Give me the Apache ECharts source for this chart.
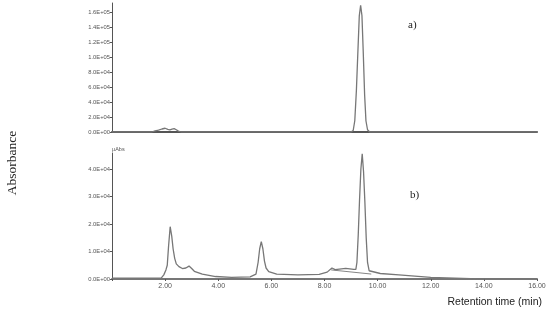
<!DOCTYPE html>
<html>
<head>
<meta charset="utf-8">
<script src="https://cdn.jsdelivr.net/npm/echarts@6/dist/echarts.min.js"></script>
<style>
  html, body { margin: 0; padding: 0; background: #fff; }
  #chart { width: 550px; height: 312px; }
</style>
</head>
<body>
<div id="chart"></div>
<script>
// a) trace: retention time (min) / absorbance
const topTime = [0, 1.5, 1.62, 1.75, 1.88, 2.0, 2.1, 2.18, 2.26, 2.34, 2.42, 2.5, 2.6,
  9.0, 9.08, 9.14, 9.2, 9.26, 9.31, 9.36, 9.41, 9.46, 9.51, 9.56, 9.62, 9.7, 16]
const topAbs = [0, 0, 1500, 2500, 4000, 5000, 3500, 2800, 3800, 4500, 3000, 1200, 0,
  0, 2000, 15000, 55000, 110000, 155000, 169000, 155000, 105000, 50000, 15000, 3000, 0, 0]

// b) trace
const botTime = [0, 1.85, 1.95, 2.03, 2.08, 2.13, 2.19, 2.25, 2.3, 2.36, 2.42, 2.52, 2.65, 2.78,
  2.9, 3.0, 3.1, 3.4, 3.9, 4.5, 5.2, 5.42, 5.5, 5.56, 5.62, 5.68, 5.74, 5.8, 5.9, 6.2, 7.0,
  7.8, 8.1, 8.28, 8.4, 8.8, 9.1, 9.18, 9.22, 9.27, 9.32, 9.37, 9.42, 9.47, 9.52, 9.57, 9.62,
  9.68, 9.75, 10.1, 10.8, 12.0, 13.8, 16.0]
const botAbs = [300, 300, 1500, 3300, 5000, 12000, 19000, 15500, 11000, 7500, 5500, 4500, 3800, 4000,
  4700, 3800, 2800, 1800, 900, 600, 800, 1800, 6000, 11000, 13600, 11000, 6500, 4000, 2700, 1800, 1500,
  1700, 2500, 4000, 3400, 3900, 3500, 3500, 6000, 16000, 29000, 40000, 45500, 39000, 28000, 15000, 6000,
  3000, 2500, 2000, 1500, 600, 0, 0]

// integration baseline under the main peak in b)
const baseTime = [8.25, 9.76]
const baseAbs = [3300, 1800]

const xTicks = [2, 4, 6, 8, 10, 12, 14, 16]

const toPairs = (xs, ys) => xs.map((x, i) => [x, ys[i]])

// 1.6E+05 style labels
const sciLabel = (v) => {
  if (v === 0) return '0.0E+00'
  const e = Math.floor(Math.log10(Math.abs(v)))
  const m = (v / Math.pow(10, e)).toFixed(1)
  return m + 'E' + (e < 0 ? '-' : '+') + String(Math.abs(e)).padStart(2, '0')
}

const axisColor = '#555'
const traceColor = '#777'
const labelStyle = { fontSize: 5.8, color: '#555', margin: 2, fontFamily: 'Liberation Sans', showMaxLabel: false, formatter: sciLabel }

const chart = echarts.init(document.getElementById('chart'))
const option = {
  animation: false,
  grid: [
    { left: 112, right: 13, top: 3, height: 129 },
    { left: 112, right: 13, top: 153, height: 126 }
  ],
  xAxis: [
    {
      type: 'value', gridIndex: 0, min: 0, max: 16, interval: 2,
      axisLine: { lineStyle: { color: axisColor, width: 2 } },
      axisTick: { show: false },
      axisLabel: { show: false },
      splitLine: { show: false }
    },
    {
      type: 'value', gridIndex: 1, min: 0, max: 16, interval: 2,
      axisLine: { lineStyle: { color: '#777', width: 2 } },
      axisTick: { length: 2, lineStyle: { color: axisColor } },
      axisLabel: {
        fontSize: 7, color: '#555', margin: 4, fontFamily: 'Liberation Sans',
        formatter: (v) => xTicks.includes(v) ? v.toFixed(2) : ''
      },
      splitLine: { show: false }
    }
  ],
  yAxis: [
    {
      type: 'value', gridIndex: 0, min: 0, max: 172000, interval: 20000,
      axisLine: { show: true, lineStyle: { color: axisColor } },
      axisTick: { length: 2, lineStyle: { color: axisColor } },
      axisLabel: labelStyle,
      splitLine: { show: false }
    },
    {
      type: 'value', gridIndex: 1, min: 0, max: 45800, interval: 10000,
      name: 'μAbs',
      nameLocation: 'end',
      nameGap: 1,
      nameTextStyle: { fontSize: 5.5, color: '#555', align: 'left', fontFamily: 'Liberation Sans' },
      axisLine: { show: true, lineStyle: { color: axisColor } },
      axisTick: { length: 2, lineStyle: { color: axisColor } },
      axisLabel: labelStyle,
      splitLine: { show: false }
    }
  ],
  series: [
    {
      type: 'line', xAxisIndex: 0, yAxisIndex: 0,
      data: toPairs(topTime, topAbs),
      showSymbol: false,
      lineStyle: { color: traceColor, width: 1.3 }
    },
    {
      type: 'line', xAxisIndex: 1, yAxisIndex: 1,
      data: toPairs(botTime, botAbs),
      showSymbol: false,
      lineStyle: { color: traceColor, width: 1.3 }
    },
    {
      type: 'line', xAxisIndex: 1, yAxisIndex: 1,
      data: toPairs(baseTime, baseAbs),
      showSymbol: false,
      lineStyle: { color: '#666', width: 0.8 }
    }
  ],
  graphic: [
    {
      type: 'text', x: 12, y: 163, rotation: Math.PI / 2,
      style: { text: 'Absorbance', font: '13.5px "Liberation Serif"', fill: '#222', align: 'center', verticalAlign: 'middle' }
    },
    {
      type: 'text', x: 408, y: 25,
      style: { text: 'a)', font: '11px "Liberation Serif"', fill: '#222', verticalAlign: 'middle' }
    },
    {
      type: 'text', x: 410, y: 195,
      style: { text: 'b)', font: '11px "Liberation Serif"', fill: '#222', verticalAlign: 'middle' }
    },
    {
      type: 'text', x: 542, y: 302,
      style: { text: 'Retention time (min)', font: '10.5px "Liberation Sans"', fill: '#222', align: 'right', verticalAlign: 'middle' }
    }
  ]
}
chart.setOption(option)
</script>
</body>
</html>
